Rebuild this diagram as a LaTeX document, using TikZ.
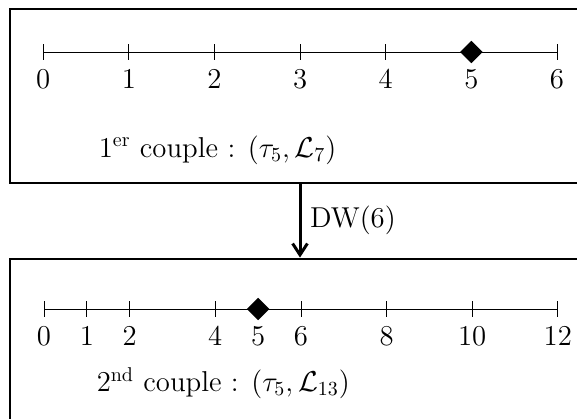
\documentclass[tikz,border=0pt]{standalone}
\usepackage{amsmath,amssymb}
\usetikzlibrary{arrows.meta,positioning,calc,shapes.geometric}

\begin{document}
\begin{tikzpicture}[
    font=\Large,
    panel/.style={draw=black, semithick},
    axisline/.style={thin},
    tick/.style={thin},
    ticklabel/.style={inner sep=1pt},
    mark5/.style={diamond, fill=black, inner sep=0pt, minimum size=0.4cm},
    arr/.style={-{Straight Barb[length=2mm,width=2.6mm]}, line width=1.5pt},
]
\useasboundingbox (0,0) rectangle (10.155,7.374);

% --- 1er couple ---
\draw[panel] (10.5,7.216) -- (0.176,7.216) -- (0.176,4.154) -- (10.5,4.154);
\coordinate (a0) at (0.76,6.459);
\coordinate (a6) at ($(a0)+(6*1.507,0)$);
\draw[axisline] (a0) -- (a6);
\foreach \k in {0,...,6} {
  \draw[tick] ($(a0)+(\k*1.507,0.14)$) -- ($(a0)+(\k*1.507,-0.14)$);
  \node[ticklabel] (ta\k) at ($(a0)+(\k*1.507,-0.48)$) {$\k$};
}
\node[mark5] (pa) at ($(a0)+(5*1.507,0)$) {};
\node (ca) at (3.83,4.73) {$1^{\text{er}}$ couple : $(\tau_5,\mathcal{L}_7)$};

% --- 2nd couple ---
\draw[panel] (10.5,2.816) -- (0.176,2.816) -- (0.176,-0.3);
\coordinate (b0) at (0.775,1.936);
\coordinate (b12) at ($(b0)+(12*0.7535,0)$);
\draw[axisline] (b0) -- (b12);
\foreach \k in {0,1,2,4,5,6,8,10,12} {
  \draw[tick] ($(b0)+(\k*0.7535,0.14)$) -- ($(b0)+(\k*0.7535,-0.14)$);
  \node[ticklabel] (tb\k) at ($(b0)+(\k*0.7535,-0.48)$) {$\k$};
}
\node[mark5] (pb) at ($(b0)+(5*0.7535,0)$) {};
\node (cb) at (3.93,0.634) {$2^{\text{nd}}$ couple : $(\tau_5,\mathcal{L}_{13})$};

% --- DW step ---
\coordinate (from) at (5.28,4.154);
\coordinate (to) at (5.28,2.84);
\draw[arr] (from) -- (to) node[midway, right=1pt] (dw) {DW$(6)$};

\end{tikzpicture}
\end{document}
